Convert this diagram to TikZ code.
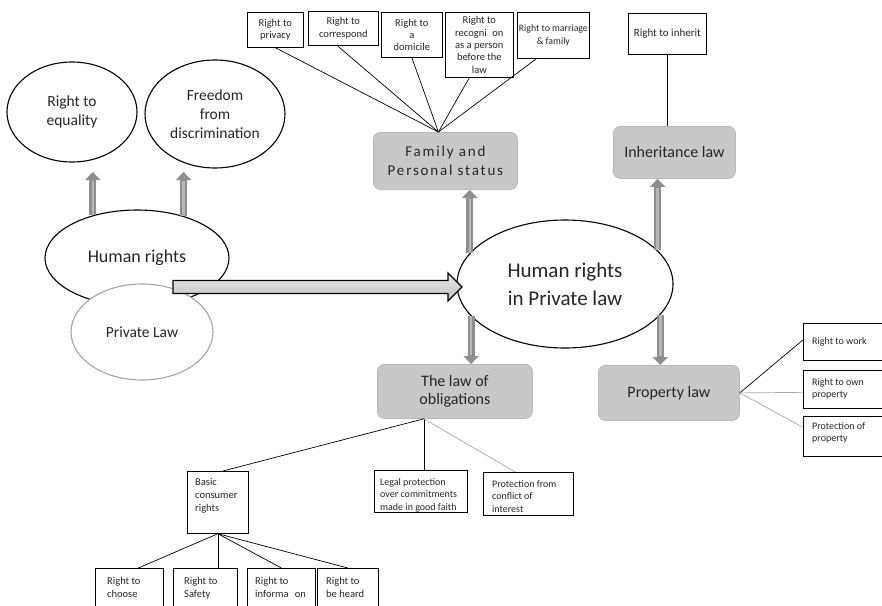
\documentclass[tikz,border=0pt]{standalone}
\usepackage{fontspec}
\setmainfont{Carlito}
\usetikzlibrary{shapes.geometric,arrows.meta}
\newcommand\fsz[2]{\fontsize{#1}{#2}\selectfont}
\definecolor{boxgray}{HTML}{C8C8C8}
\definecolor{boxedge}{HTML}{B8B8B8}
\definecolor{arrgray}{HTML}{8E8E8E}
\definecolor{arrlight}{HTML}{B8B8B8}
\definecolor{linkgray}{HTML}{A8A8A8}
\definecolor{plgray}{HTML}{A4A4A4}
\definecolor{txt}{HTML}{262626}
\begin{document}
\begin{tikzpicture}[x=1pt,y=-1pt,
  every node/.style={text=txt},
  tbox/.style={draw, line width=0.7pt, fill=white, align=center, inner sep=0pt, anchor=north west, font=\fsz{10.5}{12.3}},
  lbox/.style={draw, line width=0.7pt, fill=white, inner sep=0pt, anchor=north west},
  ltxt/.style={anchor=north west, align=left, inner sep=0pt, font=\fsz{10.5}{13}},
  rtxt/.style={anchor=north west, align=left, inner sep=0pt, font=\fsz{10}{12.5}},
  gbox/.style={rounded corners=7pt, fill=boxgray, draw=boxedge, line width=0.8pt, align=center, inner sep=0pt, anchor=north west},
  oval/.style={ellipse, draw, line width=1.1pt, fill=white, inner sep=0pt, align=center},
  link/.style={line width=0.7pt},
  glink/.style={line width=0.7pt, draw=linkgray},
  garrow/.style={line width=7pt, draw=arrgray, -{Triangle[width=15pt,length=8pt]},
     postaction={draw=arrlight, line width=2.5pt, -, shorten >=9pt}},
  bigarrow/.style={draw=black, line width=1.2pt, line join=miter, top color=gray!15, middle color=white, bottom color=gray!50}
]
\useasboundingbox (0,0) rectangle (882,605);
\clip (0,0) rectangle (882,605);

% ---------- top boxes ----------
\node[tbox, minimum width=56pt, minimum height=35pt] (priv) at (247,12) {Right to\\privacy};
\node[tbox, minimum width=70pt, minimum height=34pt] (corr) at (308,11) {Right to\\correspond};
\node[tbox, minimum width=61pt, minimum height=45pt] (dom) at (381,12) {Right to\\a\\domicile};
\node[tbox, minimum width=68pt, minimum height=65pt] (rec) at (445,12) {Right to\\recogni\hspace{0.55em}on\\as a person\\before the\\law};
\node[tbox, minimum width=72pt, minimum height=46pt, font=\fsz{9.8}{12.3}] (mar) at (517,12) {Right to marriage\\\& family};
\node[tbox, minimum width=78pt, minimum height=41pt, font=\fsz{11}{13}] (inh) at (628,13) {Right to inherit};

% ---------- gray boxes ----------
\node[gbox, minimum width=144pt, minimum height=57pt, font=\fsz{15}{19}\addfontfeature{LetterSpace=12}] (fam) at (373,132) {Family and\\Personal status};
\node[gbox, minimum width=122pt, minimum height=52pt, font=\fsz{16}{19}] (inhl) at (613,126) {Inheritance law};
\node[gbox, minimum width=155pt, minimum height=54pt, font=\fsz{16}{18.5}] (obl) at (377,364) {The law of\\obligations};
\node[gbox, minimum width=141pt, minimum height=55pt, font=\fsz{16}{19}] (prop) at (598,365) {Property law};

% ---------- ellipses ----------
\node[oval, minimum width=130pt, minimum height=100pt, font=\fsz{15.5}{19}] (eq) at (72,112) {Right to\\equality};
\node[oval, minimum width=140pt, minimum height=108pt, font=\fsz{15.5}{19}] (disc) at (215,114) {Freedom\\from\\discrimination};
\node[oval, minimum width=184pt, minimum height=96pt, font=\fsz{18}{22}] (hr) at (137,258) {Human rights};
\node[oval, draw=plgray, minimum width=142pt, minimum height=96pt, font=\fsz{15.5}{19}] (pl) at (142,332) {Private Law};
\node[oval, minimum width=216pt, minimum height=128pt, font=\fsz{21}{28}] (hrpl) at (565,284) {Human rights\\in Private law};

% ---------- big arrow ----------
\draw[bigarrow] (173,280.5) -- (448,280.5) -- (448,273) -- (462,287) -- (448,301) -- (448,293.5) -- (173,293.5) -- cycle;

% ---------- gray arrows ----------
\draw[garrow] (hr.136) -- (hr.136 |- 0,172);
\draw[garrow] (hr.42) -- (hr.42 |- 0,172);
\draw[garrow] (hrpl.162) -- (hrpl.162 |- fam.south);
\draw[garrow] (hrpl.20) -- (hrpl.20 |- inhl.south);
\draw[garrow] (hrpl.199) -- (hrpl.199 |- obl.north);
\draw[garrow] (hrpl.-18) -- (hrpl.-18 |- prop.north);

% ---------- links to family ----------
\coordinate (famtop) at ([xshift=-7pt]fam.north);
\draw[link] (priv.south) -- (famtop);
\draw[link] ([xshift=-6pt]corr.south) -- (famtop);
\draw[link] (dom.south) -- (famtop);
\draw[link] ([xshift=-10pt]rec.south) -- (famtop);
\draw[link] ([xshift=-17pt]mar.south) -- (famtop);
\draw[link] (inh.south) -- (inh.south |- inhl.north);

% ---------- property side ----------
\node[lbox, minimum width=90pt, minimum height=37pt] (work) at (803,323) {};
\node[rtxt] (workt) at ([xshift=9pt,yshift=-14pt]work.north west) {Right to work};
\node[lbox, minimum width=90pt, minimum height=38pt] (own) at (803,370) {};
\node[rtxt] (ownt) at ([xshift=9pt,yshift=-8pt]own.north west) {Right to own\\property};
\node[lbox, minimum width=90pt, minimum height=40pt] (protp) at (803,416) {};
\node[rtxt] (protpt) at ([xshift=9pt,yshift=-6pt]protp.north west) {Protection of\\property};
\draw[link] (prop.east) -- ([yshift=2pt]work.west);
\draw[glink] (prop.east) -- ([yshift=-3pt]own.west);
\draw[glink] (prop.east) -- ([yshift=9pt]protp.west);

% ---------- obligations side ----------
\node[lbox, minimum width=61pt, minimum height=62pt] (bcr) at (187,471) {};
\node[ltxt] (bcrt) at ([xshift=8pt,yshift=-7pt]bcr.north west) {Basic\\consumer\\rights};
\node[lbox, minimum width=93pt, minimum height=42pt] (leg) at (374,470) {};
\node[ltxt, font=\fsz{10}{12.7}] (legt) at ([xshift=6pt,yshift=-8pt]leg.north west) {Legal protection\\over commitments\\made in good faith};
\node[lbox, minimum width=90pt, minimum height=43pt] (conf) at (483,472) {};
\node[ltxt, font=\fsz{10}{12.7}] (conft) at ([xshift=9pt,yshift=-8pt]conf.north west) {Protection from\\conflict of\\interest};
\coordinate (oblb) at ([xshift=-31pt]obl.south);
\draw[link] (oblb) -- ([xshift=5pt]bcr.north);
\draw[link] (oblb) -- (oblb |- leg.north);
\draw[glink] (oblb) -- ([xshift=-13pt]conf.north);

% ---------- consumer rights ----------
\node[lbox, minimum width=68pt, minimum height=50pt] (ch) at (95,568) {};
\node[ltxt] (cht) at ([xshift=12pt,yshift=-9pt]ch.north west) {Right to\\choose};
\node[lbox, minimum width=64pt, minimum height=50pt] (saf) at (173,568) {};
\node[ltxt] (saft) at ([xshift=11pt,yshift=-9pt]saf.north west) {Right to\\Safety};
\node[lbox, minimum width=68pt, minimum height=50pt] (inf) at (247,568) {};
\node[ltxt] (inft) at ([xshift=8pt,yshift=-9pt]inf.north west) {Right to\\informa\hspace{0.6em}on};
\node[lbox, minimum width=61pt, minimum height=50pt] (hea) at (317,568) {};
\node[ltxt] (heat) at ([xshift=9pt,yshift=-9pt]hea.north west) {Right to\\be heard};
\draw[link] (bcr.south) -- ([xshift=9pt]ch.north);
\draw[link] (bcr.south) -- (bcr.south |- saf.north);
\draw[link] (bcr.south) -- (inf.north);
\draw[link] (bcr.south) -- (hea.north);
\end{tikzpicture}
\end{document}
